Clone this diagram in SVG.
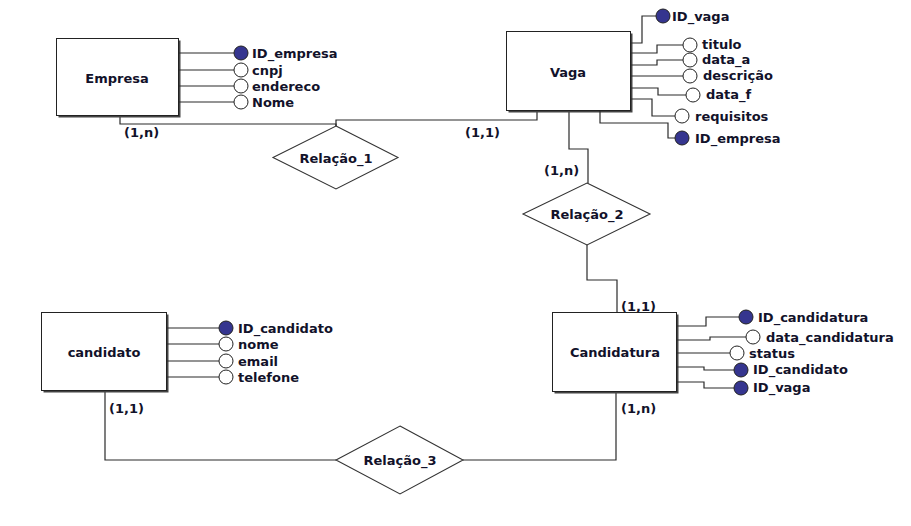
<svg xmlns="http://www.w3.org/2000/svg" width="911" height="526" viewBox="0 0 911 526">
<style>
text{font-family:"DejaVu Sans","Verdana",sans-serif;font-weight:bold;font-size:13px;fill:#12122a;dominant-baseline:central}
.mid{text-anchor:middle}
.ent{fill:#fff;stroke:#222;stroke-width:1}
.shd{fill:#444;stroke:none}
.ln{fill:none;stroke:#2a2a2a;stroke-width:1.2}
.dia{fill:#fff;stroke:#333;stroke-width:1.1}
.att{fill:#fff;stroke:#222;stroke-width:1}
.key{fill:#35358f;stroke:#222;stroke-width:1}
</style>
<rect width="911" height="526" fill="#fff"/>
<g id="connectors">
<path class="ln" d="M120,116 V124 H336 V126"/>
<path class="ln" d="M537,111 V120 H336 V126"/>
<path class="ln" d="M569,111 V149 H588 V183"/>
<path class="ln" d="M587,245 V280 H617 V313"/>
<path class="ln" d="M616,392 V460 H463"/>
<path class="ln" d="M105,391 V460 H336"/>
<text x="124" y="132">(1,n)</text>
<text x="465" y="132">(1,1)</text>
<text x="544" y="170">(1,n)</text>
<text x="621" y="306">(1,1)</text>
<text x="109" y="408">(1,1)</text>
<text x="621" y="408">(1,n)</text>
</g>
<g id="empresa">
<rect class="shd" x="58.5" y="40.5" width="122" height="77"/>
<rect class="ent" x="56.5" y="38.5" width="122" height="77"/>
<text class="mid" x="117" y="78">Empresa</text>
<path class="ln" d="M179,53 H234 M179,70 H234 M179,86 H234 M179,102 H234"/>
<circle class="key" cx="241" cy="53" r="7"/>
<circle class="att" cx="241" cy="70" r="7"/>
<circle class="att" cx="241" cy="86" r="7"/>
<circle class="att" cx="241" cy="102" r="7"/>
<text x="252" y="53">ID_empresa</text>
<text x="252" y="70">cnpj</text>
<text x="252" y="86">endereco</text>
<text x="252" y="102">Nome</text>
</g>
<g id="vaga">
<rect class="shd" x="508.5" y="33.5" width="124" height="79"/>
<rect class="ent" x="506.5" y="31.5" width="124" height="79"/>
<text class="mid" x="568" y="72">Vaga</text>
<path class="ln" d="M631,43 H642 V16 H656"/>
<path class="ln" d="M631,53 H657 V45 H683"/>
<path class="ln" d="M631,65 H657 V60 H683"/>
<path class="ln" d="M631,76 H683"/>
<path class="ln" d="M631,88 H658 V95 H686"/>
<path class="ln" d="M631,99 H652 V116 H675"/>
<path class="ln" d="M600,111 V123 H668 V138 H675"/>
<circle class="key" cx="663" cy="16" r="7"/>
<circle class="att" cx="690" cy="45" r="7"/>
<circle class="att" cx="690" cy="60" r="7"/>
<circle class="att" cx="690" cy="76" r="7"/>
<circle class="att" cx="693" cy="95" r="7"/>
<circle class="att" cx="682" cy="116" r="7"/>
<circle class="key" cx="682" cy="138" r="7"/>
<text x="672" y="16">ID_vaga</text>
<text x="702" y="44">titulo</text>
<text x="702" y="59">data_a</text>
<text x="703" y="75">descrição</text>
<text x="706" y="94">data_f</text>
<text x="695" y="116">requisitos</text>
<text x="695" y="138">ID_empresa</text>
</g>
<g id="relacao1">
<polygon class="dia" points="336,126 398,157.5 336,189 273,157.5"/>
<text class="mid" x="336" y="158">Relação_1</text>
</g>
<g id="relacao2">
<polygon class="dia" points="587,183 650,214 587,245 523,214"/>
<text class="mid" x="587" y="214">Relação_2</text>
</g>
<g id="candidatura">
<rect class="shd" x="554.5" y="314.5" width="124" height="79"/>
<rect class="ent" x="552.5" y="312.5" width="124" height="79"/>
<text class="mid" x="615" y="352">Candidatura</text>
<path class="ln" d="M677,326 H706 V317 H739"/>
<path class="ln" d="M677,340 H710 V337 H746"/>
<path class="ln" d="M677,353 H730"/>
<path class="ln" d="M677,367 H704 V370 H734"/>
<path class="ln" d="M677,382 H704 V388 H734"/>
<circle class="key" cx="746" cy="317" r="7"/>
<circle class="att" cx="753" cy="337" r="7"/>
<circle class="att" cx="737" cy="353" r="7"/>
<circle class="key" cx="741" cy="370" r="7"/>
<circle class="key" cx="741" cy="388" r="7"/>
<text x="758" y="317">ID_candidatura</text>
<text x="766" y="337">data_candidatura</text>
<text x="749" y="353">status</text>
<text x="753" y="369">ID_candidato</text>
<text x="753" y="387">ID_vaga</text>
</g>
<g id="candidato">
<rect class="shd" x="43.5" y="314.5" width="125" height="78"/>
<rect class="ent" x="41.5" y="312.5" width="125" height="78"/>
<text class="mid" x="104" y="352">candidato</text>
<path class="ln" d="M167,328 H219 M167,344 H219 M167,361 H219 M167,377 H219"/>
<circle class="key" cx="226" cy="328" r="7"/>
<circle class="att" cx="226" cy="344" r="7"/>
<circle class="att" cx="226" cy="361" r="7"/>
<circle class="att" cx="226" cy="377" r="7"/>
<text x="238" y="328">ID_candidato</text>
<text x="238" y="344">nome</text>
<text x="238" y="361">email</text>
<text x="238" y="377">telefone</text>
</g>
<g id="relacao3">
<polygon class="dia" points="400,426 463,460 400,494 336,460"/>
<text class="mid" x="400" y="460">Relação_3</text>
</g>
</svg>
